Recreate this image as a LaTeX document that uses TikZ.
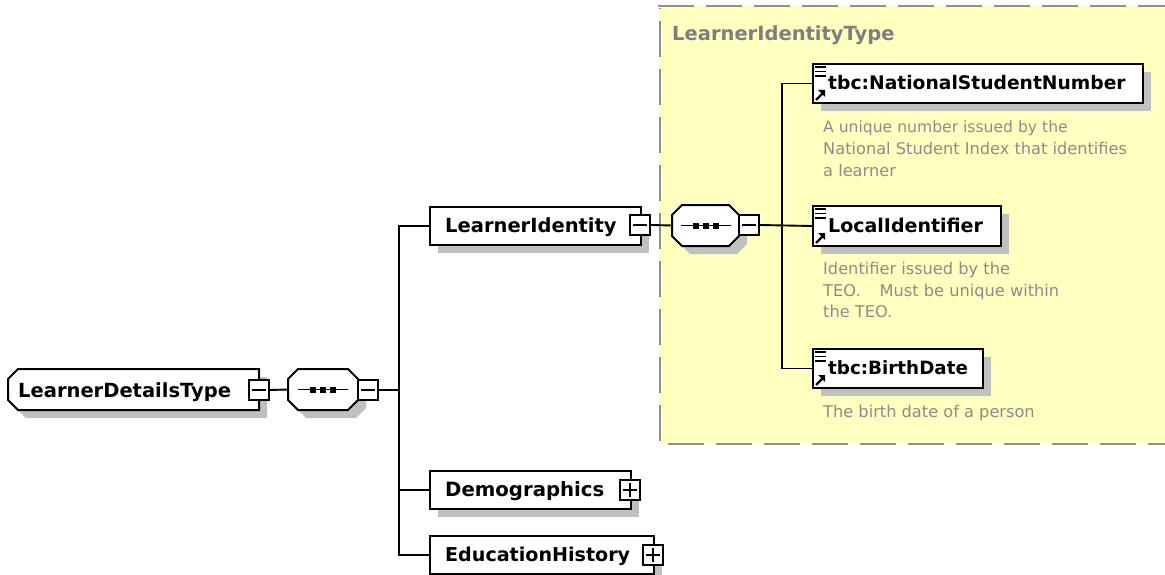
\documentclass[tikz,border=0pt]{standalone}
\usepackage{fontspec}
\setmainfont{DejaVu Sans}
\usetikzlibrary{shadows}
\definecolor{regionfill}{HTML}{FFFFC0}
\definecolor{regionline}{HTML}{909090}
\definecolor{shade}{HTML}{C0C0C0}
\definecolor{note}{HTML}{8C8C8C}
\tikzset{
  x=1pt,y=-1pt,
  wire/.style={line width=1.9pt,black},
  sh/.style={general shadow={fill=shade,shadow xshift=8pt,shadow yshift=-8pt}},
  elem/.style 2 args={rectangle,draw=black,line width=2pt,fill=white,anchor=north west,inner sep=0pt,
     minimum width=#1pt,minimum height=#2pt,sh},
  ghost/.style 2 args={rectangle,anchor=north west,inner sep=0pt,outer sep=0pt,minimum width=#1pt,minimum height=#2pt},
  outline/.style={draw=black,line width=2pt,fill=white,line join=miter},
  shadefill/.style={fill=shade},
  togglebox/.style={rectangle,draw=black,line width=1.9pt,fill=white,inner sep=0pt,minimum width=20pt,minimum height=20pt},
  lbl/.style={anchor=base west,inner sep=0pt,font=\bfseries\fontsize{#1}{22}\selectfont},
  lbl/.default=19.5,
  notetxt/.style={anchor=base west,inner sep=0pt,text=note,font=\fontsize{16.2}{19}\selectfont},
  dashline/.style={line width=1.4pt,regionline,dash pattern=on 36pt off 12pt},
}
\newcommand{\togglemark}[1]{\draw[line width=1.5pt] ([xshift=-7pt]#1.center) -- ([xshift=7pt]#1.center);}
\newcommand{\togglecross}[1]{\draw[line width=1.5pt] ([yshift=-7pt]#1.center) -- ([yshift=7pt]#1.center);}
\newcommand{\seqmark}[1]{%
  \draw[line width=1.9pt] ([xshift=-25pt]#1.center) -- ([xshift=25pt]#1.center);
  \foreach \dx in {-10,0,10}{\fill ([xshift=\dx pt]#1.center) ++(-3pt,-3pt) rectangle ++(6pt,6pt);}}
\newcommand{\refmark}[1]{%
  \draw[line width=1.3pt,black] ([shift={(3pt,-4pt)}]#1.north west) -- ++(11pt,0pt)
     ([shift={(3pt,-8.5pt)}]#1.north west) -- ++(11pt,0pt)
     ([shift={(3pt,-13pt)}]#1.north west) -- ++(11pt,0pt);
  \draw[line width=2.4pt,black] ([shift={(4pt,4pt)}]#1.south west) -- ++(7pt,7pt);
  \fill[black] ([shift={(6pt,14pt)}]#1.south west) -- ++(7pt,0pt) -- ++(0pt,-7pt) -- cycle;}
% #1 x, #2 y, #3 right, #4 bottom: octagon with cut corners
\newcommand{\octagon}[4]{%
  \foreach \sty/\dd in {shadefill/8,outline/0}{
  \path[\sty,shift={(\dd,\dd)}] (#1+10,#2) -- (#3-10,#2) -- (#3,#2+10) -- (#3,#4-10) -- (#3-10,#4)
     -- (#1+10,#4) -- (#1,#4-10) -- (#1,#2+10) -- cycle;}}
% same, with only the left corners cut
\newcommand{\leftcut}[4]{%
  \foreach \sty/\dd in {shadefill/8,outline/0}{
  \path[\sty,shift={(\dd,\dd)}] (#1+10,#2) -- (#3,#2) -- (#3,#4)
     -- (#1+10,#4) -- (#1,#4-10) -- (#1,#2+10) -- cycle;}}
\begin{document}
\begin{tikzpicture}
\useasboundingbox (0,0) rectangle (1165,575);
\fill[white] (0,0) rectangle (1165,575);
% region
\node[rectangle,fill=regionfill,anchor=north west,inner sep=0pt,minimum width=506pt,minimum height=438pt] (region) at (659,6) {};
\coordinate (rtl) at (658,6); \coordinate (rtr) at (1165,6);
\coordinate (rbl) at (668,444); \coordinate (rbr) at (1165,444);
\coordinate (rlb) at (660,441); \coordinate (rlt) at (660,8);
\draw[dashline] (rtl) -- (rtr);
\draw[dashline] (rbl) -- (rbr);
\draw[dashline] (rlb) -- (rlt);
\node[lbl,text=note!90!black] (rt) at (672,41) {LearnerIdentityType};
% nodes
\leftcut{8}{369}{259}{410}
\node[ghost={251}{41}] (root) at (8,369) {};
\node[lbl] (roott) at (18,397) {LearnerDetailsType};
\node[togglebox] (rootm) at (259,390) {};
\octagon{288}{369}{358}{410}
\node[ghost={70}{41}] (seqa) at (288,369) {};
\node[togglebox] (seqam) at (368,390) {};
\node[elem={211}{38}] (li) at (429,206) {};
\node[lbl] (lit) at (445,232) {LearnerIdentity};
\node[togglebox] (lim) at (640,225) {};
\node[elem={201}{38}] (de) at (429,470) {};
\node[lbl=19.7] (det) at (445,496) {Demographics};
\node[togglebox] (dem) at (630,490) {};
\node[elem={224}{38}] (ed) at (429,535) {};
\node[lbl=19.1] (edt) at (445,561) {EducationHistory};
\node[togglebox] (edm) at (653,555) {};
\octagon{672}{205}{739}{246}
\node[ghost={67}{41}] (seqb) at (672,205) {};
\node[togglebox] (seqbm) at (749,225) {};
\node[elem={330}{39}] (nsn) at (812,63) {};
\node[lbl=18.7] (nsnt) at (828,90) {tbc:NationalStudentNumber};
\node[elem={188}{40}] (lid) at (812,205) {};
\node[lbl=19] (lidt) at (828,232) {LocalIdentifier};
\node[elem={170}{39}] (bd) at (812,348) {};
\node[lbl=18.3] (bdt) at (828,374) {tbc:BirthDate};
\node[notetxt] (n1) at (823,133) {\fontsize{15.6}{19}\selectfont A unique number issued by the};
\node[notetxt] (n2) at (823,155) {National Student Index that identifies};
\node[notetxt] (n3) at (823,176) {a learner};
\node[notetxt] (n4) at (823,274) {Identifier issued by the};
\node[notetxt] (n5) at (823,296) {TEO.\hspace{14pt} Must be unique within};
\node[notetxt] (n6) at (823,317) {the TEO.};
\node[notetxt] (n7) at (823,417) {The birth date of a person};
% marks
\foreach \n in {rootm,seqam,lim,dem,edm,seqbm}{\togglemark{\n}}
\togglecross{dem}\togglecross{edm}
\seqmark{seqa}\seqmark{seqb}
\refmark{nsn}\refmark{lid}\refmark{bd}
% connectors
\coordinate (ta) at (399,390);
\coordinate (tb) at (782,225);
\draw[wire] (rootm.east) -- (seqa.west);
\draw[wire] (seqam.east) -- (ta);
\draw[wire] (ta) |- (li.west);
\draw[wire] (ta) |- (de.west);
\draw[wire] (ta) |- (ed.west);
\draw[wire] (lim.east) -- (seqb.west);
\draw[wire] (seqbm.east) -- (lid.west);
\draw[wire] (tb) |- (nsn.west);
\draw[wire] (tb) |- (bd.west);
\end{tikzpicture}
\end{document}
